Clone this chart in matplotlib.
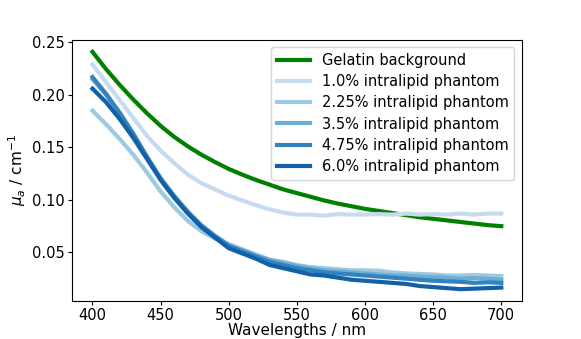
import numpy as np
import matplotlib.pyplot as plt

wavelengths = np.arange(400, 701, 10)

gelatin = [0.241, 0.2245, 0.2095, 0.1955, 0.1825, 0.1705, 0.160, 0.151, 0.143, 0.136,
           0.1295, 0.124, 0.119, 0.1145, 0.110, 0.1065, 0.103, 0.0995, 0.0965, 0.094,
           0.0915, 0.0895, 0.0875, 0.0855, 0.0835, 0.082, 0.0805, 0.079, 0.0775, 0.076, 0.075]

ip_1_0 = [0.229, 0.212, 0.195, 0.178, 0.161, 0.147, 0.135, 0.124, 0.116, 0.110,
          0.104, 0.0995, 0.095, 0.091, 0.088, 0.086, 0.086, 0.085, 0.0865, 0.086,
          0.086, 0.0865, 0.086, 0.087, 0.086, 0.0865, 0.086, 0.087, 0.086, 0.087, 0.087]

ip_2_25 = [0.185, 0.172, 0.158, 0.143, 0.126, 0.108, 0.093, 0.080, 0.070, 0.063,
           0.058, 0.053, 0.048, 0.043, 0.041, 0.038, 0.036, 0.035, 0.034, 0.033,
           0.033, 0.0325, 0.031, 0.030, 0.0295, 0.029, 0.028, 0.028, 0.0285, 0.028, 0.0275]

ip_3_5 = [0.215, 0.200, 0.182, 0.162, 0.141, 0.121, 0.104, 0.089, 0.076, 0.066,
          0.057, 0.052, 0.047, 0.043, 0.040, 0.037, 0.035, 0.033, 0.032, 0.031,
          0.030, 0.029, 0.028, 0.028, 0.027, 0.0265, 0.026, 0.025, 0.0255, 0.025, 0.024]

ip_4_75 = [0.217, 0.201, 0.183, 0.163, 0.141, 0.120, 0.103, 0.088, 0.075, 0.065,
           0.056, 0.051, 0.046, 0.041, 0.038, 0.035, 0.033, 0.031, 0.030, 0.029,
           0.028, 0.027, 0.026, 0.025, 0.024, 0.023, 0.0225, 0.022, 0.021, 0.0215, 0.021]

ip_6_0 = [0.206, 0.193, 0.177, 0.159, 0.139, 0.119, 0.102, 0.087, 0.074, 0.064,
          0.054, 0.049, 0.044, 0.038, 0.035, 0.032, 0.029, 0.028, 0.026, 0.024,
          0.023, 0.022, 0.021, 0.020, 0.018, 0.017, 0.016, 0.015, 0.0155, 0.016, 0.0165]

labels = ['1.0% intralipid phantom', '2.25% intralipid phantom', '3.5% intralipid phantom',
          '4.75% intralipid phantom', '6.0% intralipid phantom']
series = [ip_1_0, ip_2_25, ip_3_5, ip_4_75, ip_6_0]
colors = ['#c6dbef', '#9ecae1', '#6baed6', '#3182bd', '#1460a8']

fig = plt.figure(figsize=(5.81, 3.39), dpi=100)
ax = fig.add_axes([0.124, 0.112, 0.774, 0.770])

ax.plot(wavelengths, gelatin, color='green', linewidth=3, label='Gelatin background')
for s, c, l in zip(series, colors, labels):
    ax.plot(wavelengths, s, color=c, linewidth=3, label=l)

ax.set_xticks([400, 450, 500, 550, 600, 650, 700])
ax.set_yticks([0.05, 0.10, 0.15, 0.20, 0.25])
ax.tick_params(labelsize=10.5, length=3, pad=2)
ax.set_xlabel('Wavelengths / nm', fontsize=11, labelpad=0)
ax.set_ylabel(r'$\mu_a$ / cm$^{-1}$', fontsize=11, labelpad=3)
ax.legend(loc='upper right', fontsize=10.5, handlelength=2.3, labelspacing=0.42)

fig.savefig('out.png', dpi=100)
